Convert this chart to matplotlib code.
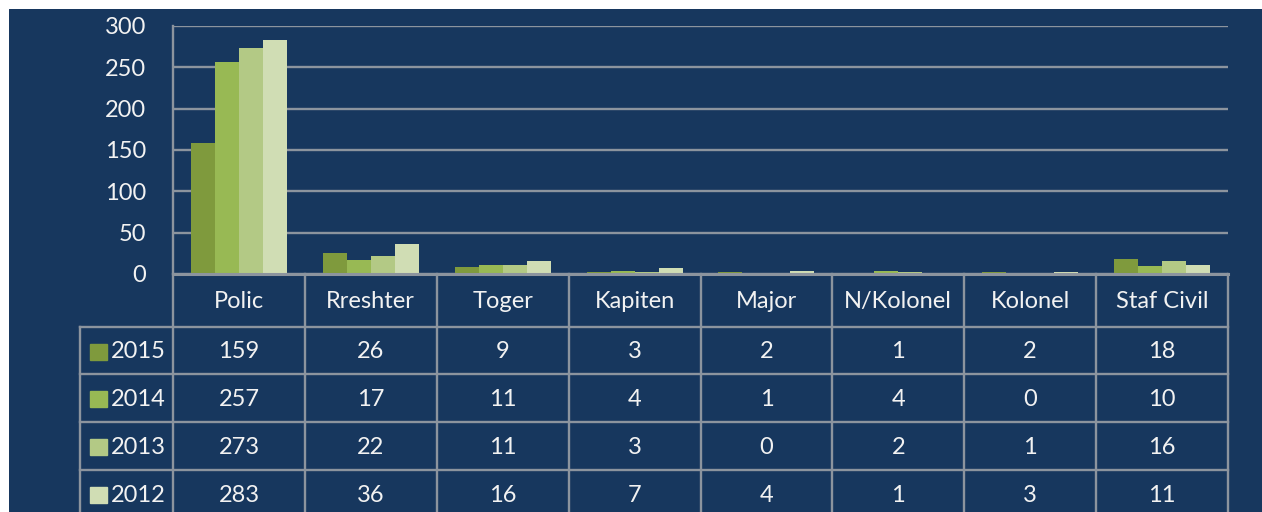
import matplotlib
matplotlib.use("Agg")
import matplotlib.pyplot as plt
import matplotlib.patches as mpatches
import numpy as np

plt.rcParams['font.family'] = ['Lato', 'DejaVu Sans']

# ---------- data ----------
categories = ["Polic", "Rreshter", "Toger", "Kapiten", "Major", "N/Kolonel", "Kolonel", "Staf Civil"]
years = ["2015", "2014", "2013", "2012"]
v2015 = [159, 26, 9, 3, 2, 1, 2, 18]
v2014 = [257, 17, 11, 4, 1, 4, 0, 10]
v2013 = [273, 22, 11, 3, 0, 2, 1, 16]
v2012 = [283, 36, 16, 7, 4, 1, 3, 11]
series = [v2015, v2014, v2013, v2012]
yticks = [0, 50, 100, 150, 200, 250, 300]

colors = ["#7f9a3d", "#98b954", "#b3c985", "#d0ddb4"]
navy = "#17375e"
line_c = "#8c949e"
txt_c = "#f2f2f2"

W, H = 1262, 512
fig = plt.figure(figsize=(W / 100, H / 100), dpi=100, facecolor="white")

# navy panel (white strip on top/left like the source)
bg = fig.add_axes([9 / W, 0, 1 - 9 / W, 1 - 9 / H])
bg.set_facecolor(navy)
bg.axis("off")
bg.add_patch(mpatches.Rectangle((0, 0), 1, 1, transform=bg.transAxes, color=navy))


def fx(px):
    return px / W


def fy(py):
    return 1 - py / H


# ---------- bar chart ----------
x_left, x_right, y_top, y_base = 173, 1228, 26, 274
ax = fig.add_axes([fx(x_left), fy(y_base), fx(x_right - x_left), (y_base - y_top) / H])
ax.set_facecolor("none")
n = len(categories)
x = np.arange(n)
bw = 0.182
for i, (vals, c) in enumerate(zip(series, colors)):
    ax.bar(x + (i - 1.5) * bw, vals, width=bw, color=c, zorder=3, linewidth=0)

ax.set_xlim(-0.5, n - 0.5)
ax.set_ylim(0, 300)
ax.set_yticks(yticks)
ax.set_yticklabels([str(t) for t in yticks], color=txt_c, fontsize=17)
ax.tick_params(axis="y", length=0, pad=19.5)
ax.set_xticks([])
ax.grid(axis="y", color=line_c, linewidth=1.7, zorder=1)
for s in ["top", "right", "bottom"]:
    ax.spines[s].set_visible(False)
ax.spines["left"].set_color(line_c)
ax.spines["left"].set_linewidth(1.7)
ax.axhline(0, color=line_c, linewidth=2.2, zorder=4, clip_on=False)

# ---------- data table ----------
leg_left = 80
col_w = (x_right - x_left) / n
tx0 = -0.5 - (x_left - leg_left) / col_w
tab = fig.add_axes([fx(leg_left), 0, fx(x_right - leg_left), (H - y_base) / H])
tab.set_facecolor("none")
tab.set_xlim(tx0, n - 0.5)
tab.set_ylim(H - y_base, 0)  # pixel rows below the baseline, downward
tab.axis("off")

row_edges = [0, 53, 100, 148, 196, 244]
lw = 1.7
# vertical dividers for category columns
for k in range(n + 1):
    tab.plot([k - 0.5, k - 0.5], [0, row_edges[-1]], color=line_c, lw=lw, clip_on=False)
# legend column left edge
tab.plot([tx0, tx0], [row_edges[1], row_edges[-1]], color=line_c, lw=lw, clip_on=False)
# horizontal row lines
for r in row_edges[1:5]:
    tab.plot([tx0, n - 0.5], [r, r], color=line_c, lw=lw, clip_on=False)

# header
for k, cat in enumerate(categories):
    tab.text(k, (row_edges[0] + row_edges[1]) / 2 + 1, cat, color=txt_c, fontsize=17,
             ha="center", va="center")

# rows
sq = 0.13
for r, (yr, vals, c) in enumerate(zip(years, series, colors)):
    yc = (row_edges[r + 1] + row_edges[r + 2]) / 2 + 1
    tab.add_patch(mpatches.Rectangle((tx0 + 10 / col_w, yc - 8), sq, 16, color=c, clip_on=False))
    tab.text(tx0 + 31 / col_w, yc, yr, color=txt_c, fontsize=17, ha="left", va="center")
    for k, v in enumerate(vals):
        tab.text(k, yc, str(v), color=txt_c, fontsize=17, ha="center", va="center")

fig.savefig("out.png", dpi=100, facecolor="white")
